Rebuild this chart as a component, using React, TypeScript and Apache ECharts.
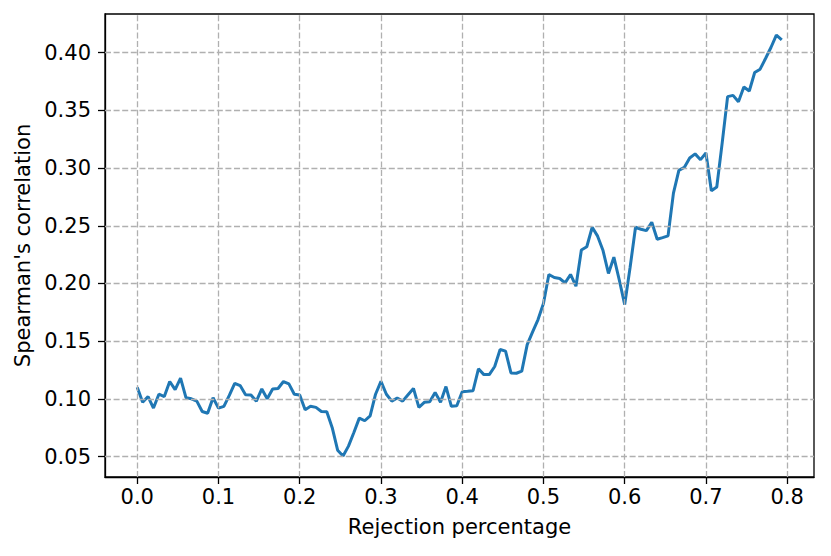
import React, { useEffect, useRef } from "react";
import * as echarts from "echarts";

// Spearman's correlation, sampled every 1/150 of rejection percentage
const correlation: number[] = [
  0.110, 0.097, 0.102, 0.092, 0.104, 0.102, 0.115, 0.108, 0.118, 0.101,
  0.100, 0.098, 0.089, 0.0875, 0.101, 0.092, 0.0935, 0.103, 0.1135, 0.1115,
  0.1036, 0.1034, 0.098, 0.1086, 0.100, 0.1086, 0.109, 0.115, 0.113, 0.104,
  0.1034, 0.0906, 0.0935, 0.0926, 0.089, 0.0888, 0.075, 0.0555, 0.0505, 0.059,
  0.0708, 0.0833, 0.081, 0.0853, 0.104, 0.1152, 0.104, 0.098, 0.1007, 0.098,
  0.1036, 0.109, 0.0926, 0.097, 0.0975, 0.1056, 0.097, 0.1106, 0.0935, 0.094,
  0.1062, 0.1065, 0.107, 0.126, 0.121, 0.121, 0.128, 0.1428, 0.1413, 0.1225,
  0.1222, 0.124, 0.147, 0.158, 0.1687, 0.1826, 0.2078, 0.2052, 0.2043, 0.2005,
  0.2078, 0.1976, 0.229, 0.2318, 0.2487, 0.241, 0.2285, 0.2087, 0.2228, 0.203,
  0.1817, 0.214, 0.2487, 0.247, 0.2458, 0.253, 0.2383, 0.2397, 0.2412, 0.2783,
  0.298, 0.3006, 0.3088, 0.3123, 0.3073, 0.3131, 0.2803, 0.2836, 0.3219, 0.3619,
  0.363, 0.3575, 0.3703, 0.3668, 0.3828, 0.3857, 0.395, 0.4045, 0.4153, 0.4112,
];
const rejectionStep = 1 / 150;

const xTicks: number[] = [0, 0.1, 0.2, 0.3, 0.4, 0.5, 0.6, 0.7, 0.8];
const yTicks: number[] = [0.05, 0.1, 0.15, 0.2, 0.25, 0.3, 0.35, 0.4];

const xLabel = "Rejection percentage";
const yLabel = "Spearman's correlation";

export default function App() {
  const ref = useRef<HTMLDivElement>(null);
  useEffect(() => {
    document.body.style.margin = "0";
    if (!ref.current) return;
    const chart = echarts.init(ref.current, undefined, { renderer: "svg" });
    const points = correlation.map((v, i) => [i * rejectionStep, v]);
    const xs = points.map((p) => p[0]);
    const xMinD = Math.min(...xs);
    const xMaxD = Math.max(...xs);
    const yMinD = Math.min(...correlation);
    const yMaxD = Math.max(...correlation);
    const xm = (xMaxD - xMinD) * 0.05;
    const ym = (yMaxD - yMinD) * 0.05;
    const font = "DejaVu Sans";
    const fs = 21;
    chart.setOption({
      animation: false,
      grid: {
        left: 105,
        right: 17,
        top: 14,
        bottom: 79,
        show: true,
        borderColor: "#000",
        borderWidth: 1.3,
        backgroundColor: "transparent",
      },
      xAxis: {
        type: "value",
        min: xMinD - xm,
        max: xMaxD + xm,
        name: xLabel,
        nameLocation: "middle",
        nameGap: 39,
        nameTextStyle: { fontFamily: font, fontSize: fs, color: "#000" },
        axisLine: { show: true, onZero: false, lineStyle: { color: "#000", width: 1.3 } },
        axisTick: {
          show: true,
          length: 7,
          lineStyle: { color: "#000", width: 1.3 },
          customValues: xTicks,
        },
        axisLabel: {
          fontFamily: font,
          fontSize: fs,
          color: "#000",
          margin: 9,
          customValues: xTicks,
          formatter: (v: number) => v.toFixed(1),
        },
        splitLine: { show: false },
      },
      yAxis: {
        type: "value",
        min: yMinD - ym,
        max: yMaxD + ym,
        name: yLabel,
        nameLocation: "middle",
        nameGap: 72,
        nameTextStyle: { fontFamily: font, fontSize: fs, color: "#000" },
        axisLine: { show: true, onZero: false, lineStyle: { color: "#000", width: 1.3 } },
        axisTick: {
          show: true,
          length: 7,
          lineStyle: { color: "#000", width: 1.3 },
          customValues: yTicks,
        },
        axisLabel: {
          fontFamily: font,
          fontSize: fs,
          color: "#000",
          margin: 14,
          customValues: yTicks,
          formatter: (v: number) => v.toFixed(2),
        },
        splitLine: { show: false },
      },
      series: [
        {
          type: "line",
          data: [],
          z: 1,
          silent: true,
          markLine: {
            silent: true,
            symbol: ["none", "none"],
            label: { show: false },
            animation: false,
            lineStyle: { type: [6, 2.6], color: "#b0b0b0", width: 1.3 },
            emphasis: { disabled: true },
            data: [
              ...xTicks.map((v) => ({ xAxis: v })),
              ...yTicks.map((v) => ({ yAxis: v })),
            ],
          },
        },
        {
          type: "line",
          data: points,
          z: 3,
          showSymbol: false,
          symbol: "none",
          lineStyle: { color: "#1f77b4", width: 3 },
          itemStyle: { color: "#1f77b4" },
        },
      ],
    });
    return () => chart.dispose();
  }, []);
  return <div ref={ref} style={{ width: 831, height: 556 }} />;
}
